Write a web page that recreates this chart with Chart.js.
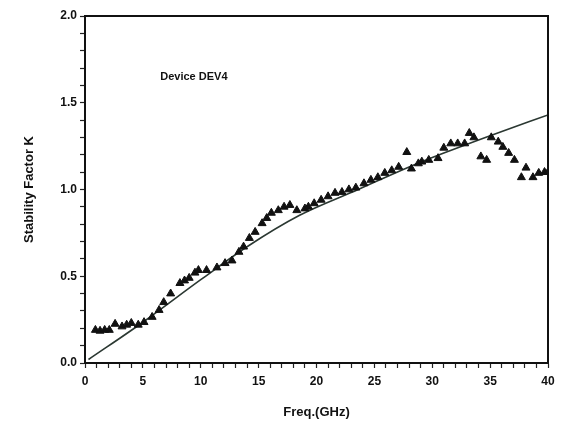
<!DOCTYPE html>
<html>
<head>
<meta charset="utf-8">
<script src="https://cdn.jsdelivr.net/npm/chart.js@4.4.1/dist/chart.umd.min.js"></script>
<style>
  html, body { margin: 0; padding: 0; background: #fff; }
  #wrap { width: 561px; height: 431px; }
</style>
</head>
<body>
<div id="wrap"><canvas id="kChart" width="561" height="431"></canvas></div>
<script>
// measured stability factor (triangles)
const measFreq = [0.9, 1.3, 1.7, 2.1, 2.6, 3.2, 3.6, 4.0, 4.6, 5.1, 5.8, 6.4, 6.8, 7.4, 8.2, 8.6, 9.0, 9.5,
  9.8, 10.5, 11.4, 12.1, 12.7, 13.3, 13.7, 14.2, 14.7, 15.3, 15.7, 16.1, 16.7, 17.2, 17.7, 18.3, 19.0,
  19.3, 19.8, 20.4, 21.0, 21.6, 22.2, 22.8, 23.4, 24.1, 24.7, 25.3, 25.9, 26.5, 27.1, 27.8, 28.2, 28.8,
  29.1, 29.7, 30.5, 31.0, 31.6, 32.2, 32.8, 33.2, 33.6, 34.2, 34.7, 35.1, 35.7, 36.1, 36.6, 37.1,
  37.7, 38.1, 38.7, 39.2, 39.7, 40.0];
const measK = [0.19, 0.185, 0.19, 0.19, 0.225, 0.21, 0.22, 0.23, 0.22, 0.235, 0.265, 0.305, 0.35, 0.40, 0.46, 0.475, 0.49, 0.52,
  0.535, 0.535, 0.55, 0.575, 0.59, 0.64, 0.67, 0.72, 0.755, 0.805, 0.835, 0.865, 0.88, 0.90, 0.91, 0.88, 0.89,
  0.90, 0.92, 0.94, 0.96, 0.98, 0.985, 1.00, 1.01, 1.035, 1.055, 1.07, 1.095, 1.11, 1.13, 1.215, 1.12, 1.15,
  1.16, 1.17, 1.18, 1.24, 1.265, 1.265, 1.265, 1.325, 1.30, 1.19, 1.17, 1.30, 1.275, 1.245, 1.21, 1.17,
  1.07, 1.125, 1.07, 1.095, 1.10, 1.10];

// modelled curve
const fitFreq = [0.3, 5, 10, 14, 18.5, 23.6, 28, 31, 35, 40];
const fitK = [0.02, 0.235, 0.48, 0.67, 0.85, 1.00, 1.13, 1.21, 1.31, 1.43];

const xTicks = [0, 5, 10, 15, 20, 25, 30, 35, 40];
const yTicks = [0.0, 0.5, 1.0, 1.5, 2.0];

const FONT = "'Liberation Sans', Arial, sans-serif";

// box frame (top and right edges) plus the device note
const framePlugin = {
  id: 'frame',
  afterDraw(chart) {
    const { ctx, chartArea: a, scales } = chart;
    ctx.save();
    ctx.strokeStyle = '#111';
    ctx.lineWidth = 2;
    ctx.beginPath();
    ctx.moveTo(a.left, a.top);
    ctx.lineTo(a.right, a.top);
    ctx.lineTo(a.right, a.bottom);
    ctx.stroke();
    ctx.fillStyle = '#111';
    ctx.font = 'bold 11px ' + FONT;
    ctx.textBaseline = 'middle';
    ctx.fillText('Device DEV4', scales.x.getPixelForValue(6.5), scales.y.getPixelForValue(1.65));
    ctx.restore();
  }
};

new Chart(document.getElementById('kChart'), {
  type: 'scatter',
  data: {
    datasets: [{
      label: 'Measured',
      data: measFreq.map((f, i) => ({ x: f, y: measK[i] })),
      pointStyle: 'triangle',
      pointRadius: 4.6,
      backgroundColor: '#111',
      borderColor: '#111',
      borderWidth: 1
    }, {
      label: 'Model',
      data: fitFreq.map((f, i) => ({ x: f, y: fitK[i] })),
      showLine: true,
      pointRadius: 0,
      borderColor: '#2b3832',
      borderWidth: 1.6,
      cubicInterpolationMode: 'monotone'
    }]
  },
  options: {
    responsive: false,
    animation: false,
    layout: { padding: { top: 16, right: 13, left: 0, bottom: 0 } },
    plugins: { legend: { display: false }, tooltip: { enabled: false } },
    scales: {
      x: {
        type: 'linear',
        min: 0, max: 40,
        afterFit(s) { s.height = 68; },
        ticks: {
          stepSize: 1,
          autoSkip: false,
          maxRotation: 0,
          padding: 6,
          color: '#111',
          font: { family: FONT, size: 12, weight: 'bold' },
          callback: v => xTicks.includes(v) ? String(v) : ''
        },
        grid: { drawOnChartArea: false, color: '#222', tickLength: 5, tickWidth: 1.2 },
        border: { color: '#111', width: 2 },
        title: {
          display: true,
          text: 'Freq.(GHz)',
          color: '#111',
          font: { family: FONT, size: 13, weight: 'bold' },
          padding: { top: 0, bottom: 11 }
        }
      },
      y: {
        min: 0, max: 2,
        afterFit(s) { s.width = 85; },
        ticks: {
          stepSize: 0.1,
          autoSkip: false,
          padding: 3,
          color: '#111',
          font: { family: FONT, size: 12, weight: 'bold' },
          callback: v => {
            const r = Math.round(v * 10) / 10;
            return yTicks.includes(r) ? r.toFixed(1) : '';
          }
        },
        grid: { drawOnChartArea: false, color: '#222', tickLength: 5, tickWidth: 1.2 },
        border: { color: '#111', width: 2 },
        title: {
          display: true,
          text: 'Stability Factor K',
          color: '#111',
          font: { family: FONT, size: 13, weight: 'bold' },
          padding: { top: 22, bottom: 0 }
        }
      }
    }
  },
  plugins: [framePlugin]
});
</script>
</body>
</html>
